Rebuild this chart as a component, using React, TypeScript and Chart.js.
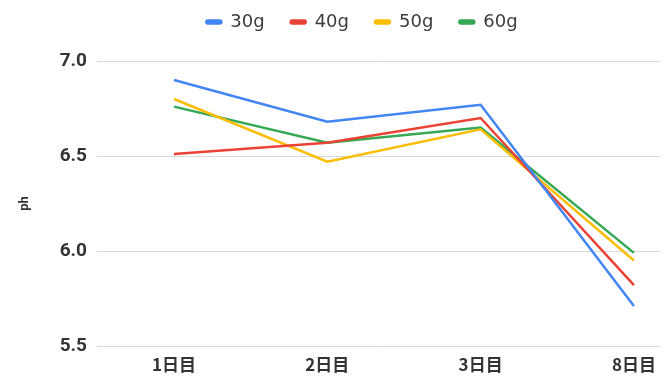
import React, { useEffect, useRef } from "react";
import { Chart, registerables } from "chart.js";

Chart.register(...registerables);

const categories = ["1日目", "2日目", "3日目", "8日目"];
const seriesNames = ["30g", "40g", "50g", "60g"];
const s30 = [6.9, 6.68, 6.77, 5.71];
const s40 = [6.51, 6.57, 6.7, 5.82];
const s50 = [6.8, 6.47, 6.64, 5.95];
const s60 = [6.76, 6.57, 6.65, 5.99];
const colors = ["#4285F4", "#EA4335", "#FBBC04", "#34A853"];
const yTicks = [5.5, 6.0, 6.5, 7.0];
const yTitle = "ph";

const legendTweak = {
  id: "legendTweak",
  beforeLayout(chart: any) {
    const l = chart.legend;
    if (l && !l.__wrapped) {
      const orig = l.fit.bind(l);
      l.fit = () => {
        orig();
        l.height = 61;
      };
      l.__wrapped = true;
    }
  },
  afterLayout(chart: any) {
    const l = chart.legend;
    if (l) {
      l.left += 32;
      l.right += 32;
      l.top -= 13;
      l.bottom -= 13;
    }
  },
};

export default function App() {
  const ref = useRef<HTMLCanvasElement>(null);
  useEffect(() => {
    const all = [s30, s40, s50, s60];
    const chart = new Chart(ref.current!, {
      type: "line",
      data: {
        datasets: all.map((vals, i) => ({
          label: seriesNames[i],
          data: vals.map((v, j) => ({ x: j, y: v })),
          borderColor: colors[i],
          backgroundColor: colors[i],
          borderWidth: 2.5,
          pointRadius: 0,
          tension: 0,
        })),
      },
      options: {
        animation: false,
        responsive: false,
        layout: { padding: { top: 0, right: 11, bottom: 0, left: 0 } },
        plugins: {
          legend: {
            position: "top",
            labels: {
              boxWidth: 15,
              boxHeight: 3,
              padding: 26,
              color: "#3c3c3c",
              font: { family: "DejaVu Sans", size: 18, weight: "normal" },
              useBorderRadius: true,
              borderRadius: 1.5,
            },
          },
          tooltip: { enabled: false },
        },
        scales: {
          x: {
            type: "linear",
            min: -0.502,
            max: 3.17,
            grid: { display: false, drawTicks: false },
            border: { display: false },
            afterBuildTicks: (s: any) => {
              s.ticks = categories.map((_, i) => ({ value: i }));
            },
            afterFit: (s: any) => {
              s.height = 32;
            },
            ticks: {
              padding: 8,
              color: "#333",
              font: { family: "Noto Sans CJK JP", size: 17, weight: "bold" },
              callback: (v: any) => categories[v] ?? "",
              maxRotation: 0,
            },
          },
          y: {
            min: 5.5,
            max: 7.0,
            afterBuildTicks: (s: any) => {
              s.ticks = yTicks.map((v) => ({ value: v }));
            },
            afterFit: (s: any) => {
              s.width = 97;
            },
            grid: { color: "#dadada", drawTicks: false, lineWidth: 1 },
            border: { display: false },
            ticks: {
              padding: 10,
              color: "#333",
              font: { family: "Roboto", size: 19, weight: "bold" },
              callback: (v: any) => Number(v).toFixed(1),
            },
            title: {
              display: true,
              text: yTitle,
              color: "#333",
              font: { family: "Roboto", size: 13, weight: "bold" },
              padding: { top: 17, bottom: 0 },
            },
          },
        },
      },
      plugins: [legendTweak],
    });
    return () => chart.destroy();
  }, []);
  return (
    <div style={{ position: "absolute", left: 0, top: 0, width: 671, height: 378, background: "#fff" }}>
      <canvas ref={ref} width={671} height={378} />
    </div>
  );
}
